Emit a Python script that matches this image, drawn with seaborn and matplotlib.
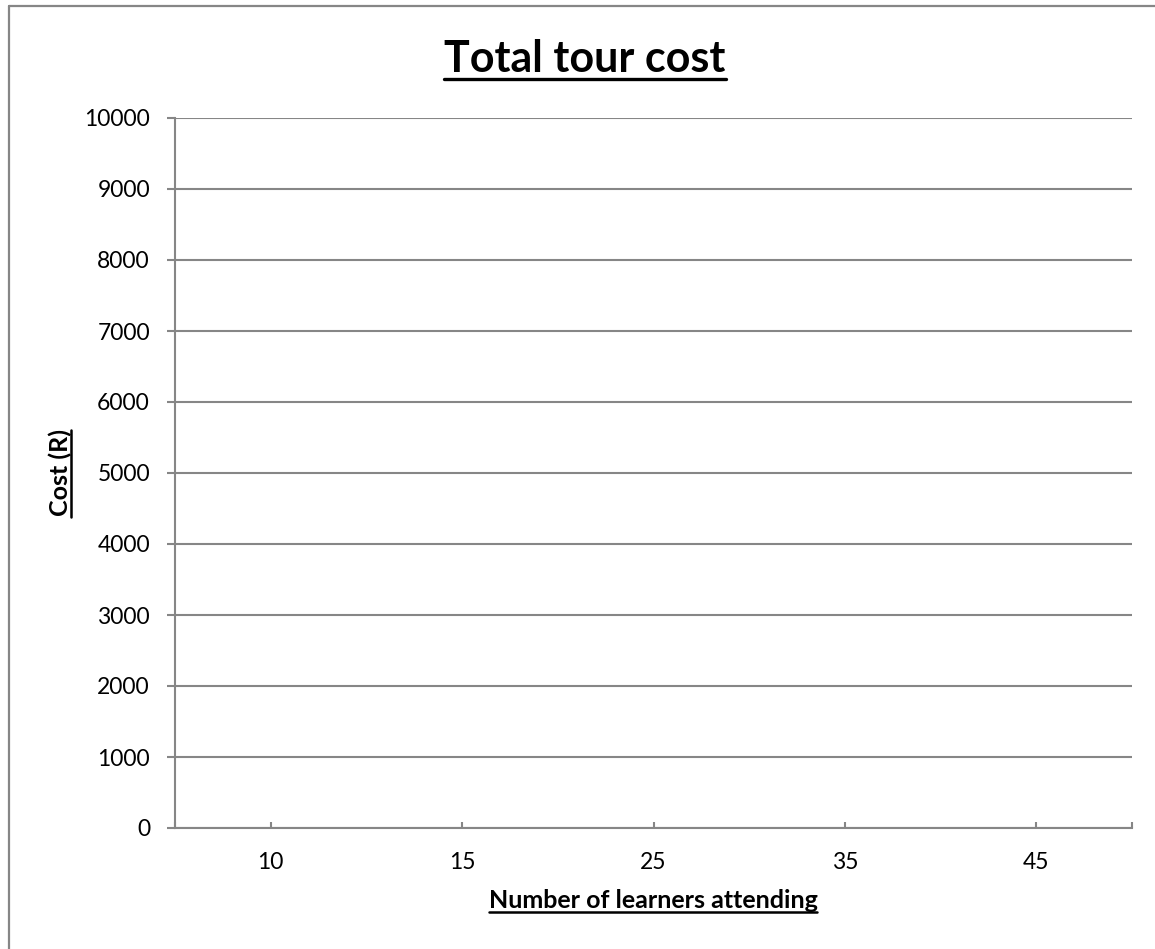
"""
Total tour cost chart (empty Excel-style category chart).
"""

import matplotlib
matplotlib.use("Agg")
import matplotlib.pyplot as plt
from matplotlib.lines import Line2D
import seaborn as sns
import pandas as pd
import numpy as np

# Data
LEARNERS = ["10", "15", "25", "35", "45"]
COST = [np.nan, np.nan, np.nan, np.nan, np.nan]
Y_TICKS = [0, 1000, 2000, 3000, 4000, 5000, 6000, 7000, 8000, 9000, 10000]

TITLE = "Total tour cost"
X_LABEL = "Number of learners attending"
Y_LABEL = "Cost (R)"

W, H = 1155, 949
GREY = "#868686"
FONT = ["Lato", "DejaVu Sans"]

sns.set_theme(style="white")
plt.rcParams["font.family"] = FONT


def px(x, y):
    """Pixel coords (top-left origin) -> figure fraction."""
    return x / W, 1 - y / H


def underline(fig, renderer, txt, offset, lw=2.0, vertical=False):
    bb = txt.get_window_extent(renderer)
    if vertical:
        xb = txt.get_position()[0] * W + offset
        fig.add_artist(Line2D([xb / W, xb / W], [bb.y0 / H, bb.y1 / H],
                              transform=fig.transFigure, color="black", lw=lw))
    else:
        yb = txt.get_position()[1] * H - offset
        fig.add_artist(Line2D([bb.x0 / W, bb.x1 / W], [yb / H, yb / H],
                              transform=fig.transFigure, color="black", lw=lw))


df = pd.DataFrame({"learners": LEARNERS, "cost": COST})

fig = plt.figure(figsize=(W / 100, H / 100), dpi=100)
ax = fig.add_axes([175 / W, 1 - 828 / H, (1132 - 175) / W, (828 - 118) / H])

sns.barplot(data=df, x="learners", y="cost", order=LEARNERS, color="#4F81BD", ax=ax)

ax.set_xlim(-0.5, len(LEARNERS) - 0.5)
ax.set_ylim(0, 10000)
ax.set_yticks(Y_TICKS)
ax.set_yticklabels([str(v) for v in Y_TICKS])
ax.set_xticks(range(len(LEARNERS)))
ax.set_xticklabels(LEARNERS)
ax.set_xticks([-0.5, len(LEARNERS) - 0.5], minor=True)
ax.set_xlabel("")
ax.set_ylabel("")

ax.grid(axis="y", color=GREY, lw=1.5)
ax.grid(axis="x", visible=False)
ax.set_axisbelow(True)
for side in ["top", "right"]:
    ax.spines[side].set_visible(False)
for side in ["left", "bottom"]:
    ax.spines[side].set_color(GREY)
    ax.spines[side].set_linewidth(1.5)

ax.tick_params(axis="y", which="major", direction="out", length=6, width=1.5,
               color=GREY, pad=12, labelsize=16.5, labelcolor="black", left=True)
ax.tick_params(axis="x", which="both", direction="in", length=4.5, width=1.5,
               color=GREY, pad=17, labelsize=16.5, labelcolor="black", bottom=True)

# Titles as figure text so they can be underlined
t = fig.text(*px(585, 72), TITLE, ha="center", va="baseline",
             fontsize=31, fontweight="bold", color="black")
xl = fig.text(*px(653, 908), X_LABEL, ha="center", va="baseline",
              fontsize=18, fontweight="bold", color="black")
yl = fig.text(*px(68, 473), Y_LABEL, ha="center", va="baseline",
              rotation=90, rotation_mode="anchor",
              fontsize=18, fontweight="bold", color="black")

# Outer chart-area border (left and top edges visible)
fig.add_artist(Line2D([9 / W, 9 / W], [0, 1 - 6 / H], transform=fig.transFigure,
                      color=GREY, lw=1.6))
fig.add_artist(Line2D([9 / W, 1], [1 - 6 / H, 1 - 6 / H], transform=fig.transFigure,
                      color=GREY, lw=1.6))

fig.canvas.draw()
r = fig.canvas.get_renderer()
underline(fig, r, t, 7, lw=2.4)
underline(fig, r, xl, 4, lw=1.8)
underline(fig, r, yl, 3, lw=1.8, vertical=True)

fig.savefig("out.png", dpi=100)
